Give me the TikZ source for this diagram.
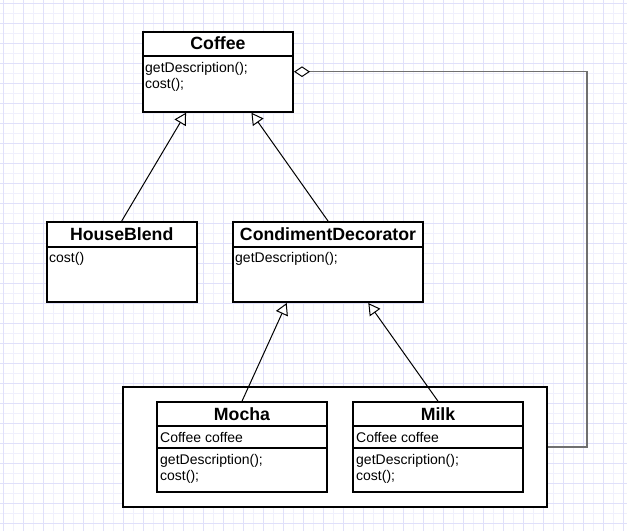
\documentclass[tikz,border=0pt]{standalone}
\usepackage{fontspec}
\setmainfont{Liberation Sans}
\usetikzlibrary{arrows.meta,calc}
\definecolor{gridminor}{RGB}{240,240,252}
\definecolor{gridmajor}{RGB}{224,224,250}
\definecolor{aggrgray}{RGB}{112,112,112}
\tikzset{classbox/.style={draw, fill=white, line width=2pt, inner sep=0pt, minimum height=80pt},
  hdr/.style={font=\bfseries\fontsize{17.7}{20}\selectfont, inner sep=0pt, anchor=base},
  mbr/.style={font=\fontsize{14}{16}\selectfont, inner sep=0pt, anchor=base west},
  inherit/.style={line width=1pt, -{Triangle[fill=white, length=11.7pt, width=12.9pt]}},
  aggr/.style={line width=1.5pt, aggrgray, {Diamond[color=black, fill=white, line width=1pt, length=16pt, width=10.7pt]}-}}

\begin{document}
\begin{tikzpicture}[x=1pt,y=-1pt]
\useasboundingbox (0,0) rectangle (627,531);
\fill[white] (0,0) rectangle (627,531);
% grid
\foreach \g in {3,13,...,623}
  \draw[gridminor, line width=1pt] (\g,0) -- (\g,531);
\foreach \g in {3,13,...,531}
  \draw[gridminor, line width=1pt] (0,\g) -- (627,\g);
\foreach \g in {3,23,...,623}
  \draw[gridmajor, line width=1pt] (\g,0) -- (\g,531);
\foreach \g in {3,23,...,531}
  \draw[gridmajor, line width=1pt] (0,\g) -- (627,\g);

% classes
\node[classbox, minimum width=150pt] (coffee) at (218,71.7) {};
\node[classbox, minimum width=150pt] (houseblend) at (121.7,262) {};
\node[classbox, minimum width=190pt] (condiment) at (328,262) {};
\node[classbox, line width=2.5pt, minimum width=424pt, minimum height=120pt] (wrapper) at (335,447) {};

\draw[line width=2pt] ([yshift=-25.5pt]coffee.north west) -- ([yshift=-25.5pt]coffee.north east);
\draw[line width=2pt] ([yshift=-25.5pt]houseblend.north west) -- ([yshift=-25.5pt]houseblend.north east);
\draw[line width=2pt] ([yshift=-25.5pt]condiment.north west) -- ([yshift=-25.5pt]condiment.north east);

\node[hdr] (coffeeT) at (218,49.3) {Coffee};
\node[mbr] (coffeeM1) at (145,72.7) {getDescription();};
\node[mbr] (coffeeM2) at (145,88.3) {cost();};
\node[hdr] (houseblendT) at (121.7,240) {HouseBlend};
\node[mbr] (houseblendM1) at (49,262.7) {cost()};
\node[hdr] (condimentT) at (328,240) {CondimentDecorator};
\node[mbr] (condimentM1) at (235,262.7) {getDescription();};

% decorators
\foreach \cls/\cx/\lbl in {mocha/242/Mocha, milk/438/Milk}
  {
    \node[classbox, minimum width=170pt, minimum height=90pt] (\cls) at (\cx,447.2) {};
    \draw[line width=2pt] ([yshift=-25pt]\cls.north west) -- ([yshift=-25pt]\cls.north east);
    \draw[line width=2pt] ([yshift=-47pt]\cls.north west) -- ([yshift=-47pt]\cls.north east);
    \node[hdr] (\cls T) at (\cx,420) {\lbl};
    \node[mbr] (\cls M1) at (\cx-82,442.3) {Coffee coffee};
    \node[mbr] (\cls M2) at (\cx-82,464) {getDescription();};
    \node[mbr] (\cls M3) at (\cx-82,480) {cost();};
  }

% inheritance
\draw[inherit] (houseblend.north) -- ($(coffee.south west)!0.29!(coffee.south east)$);
\draw[inherit] (condiment.north) -- ($(coffee.south west)!0.72!(coffee.south east)$);
\draw[inherit] (mocha.north) -- ($(condiment.south west)!0.285!(condiment.south east)$);
\draw[inherit] (milk.north) -- ($(condiment.south west)!0.71!(condiment.south east)$);

% aggregation
\coordinate (bend) at (587,0);
\draw[aggr] (coffee.east) -- (coffee.east -| bend) |- (wrapper.east);
\end{tikzpicture}
\end{document}
